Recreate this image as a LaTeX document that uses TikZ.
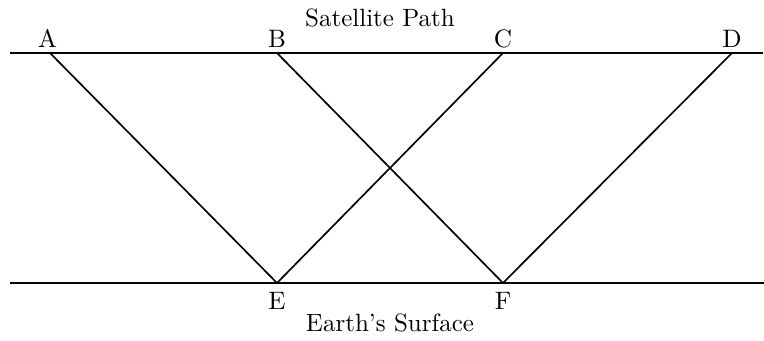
\documentclass[tikz,border=0pt]{standalone}
\usetikzlibrary{positioning}
\tikzset{
    track/.style={thick, draw=black},
    ray/.style={line width=0.7pt, draw=black},
    ptlabel/.style={inner sep=1pt, font=\fontsize{10.6}{12}\selectfont},
    caption/.style={inner sep=0pt, font=\fontsize{10.5}{12}\selectfont}
}
\begin{document}
\begin{tikzpicture}[x=0.42pt, y=-0.42pt]
    \useasboundingbox (0,0) rectangle (764,341);
    % satellite path
    \coordinate (satL) at (10,53);
    \coordinate (satR) at (763,53);
    \coordinate (A) at (50,53);
    \coordinate (B) at (277,53);
    \coordinate (C) at (503,53);
    \coordinate (D) at (732,53);
    % earth's surface
    \coordinate (surfL) at (10,283);
    \coordinate (surfR) at (764,283);
    \coordinate (E) at (277,283);
    \coordinate (F) at (503,283);
    \draw[track] (satL) -- (satR);
    \draw[track] (surfL) -- (surfR);
    \draw[ray] (A) -- (E);
    \draw[ray] (C) -- (E);
    \draw[ray] (B) -- (F);
    \draw[ray] (D) -- (F);
    \node[ptlabel, above=1pt of A, xshift=-1pt] (labA) {A};
    \node[ptlabel, above=1pt of B] (labB) {B};
    \node[ptlabel, above=1pt of C] (labC) {C};
    \node[ptlabel, above=1pt of D] (labD) {D};
    \node[ptlabel, below=2.6pt of E] (labE) {E};
    \node[ptlabel, below=2.6pt of F] (labF) {F};
    \node[caption] (satTitle) at (380,18) {Satellite Path};
    \node[caption] (surfTitle) at (390,323) {Earth's Surface};
\end{tikzpicture}
\end{document}
